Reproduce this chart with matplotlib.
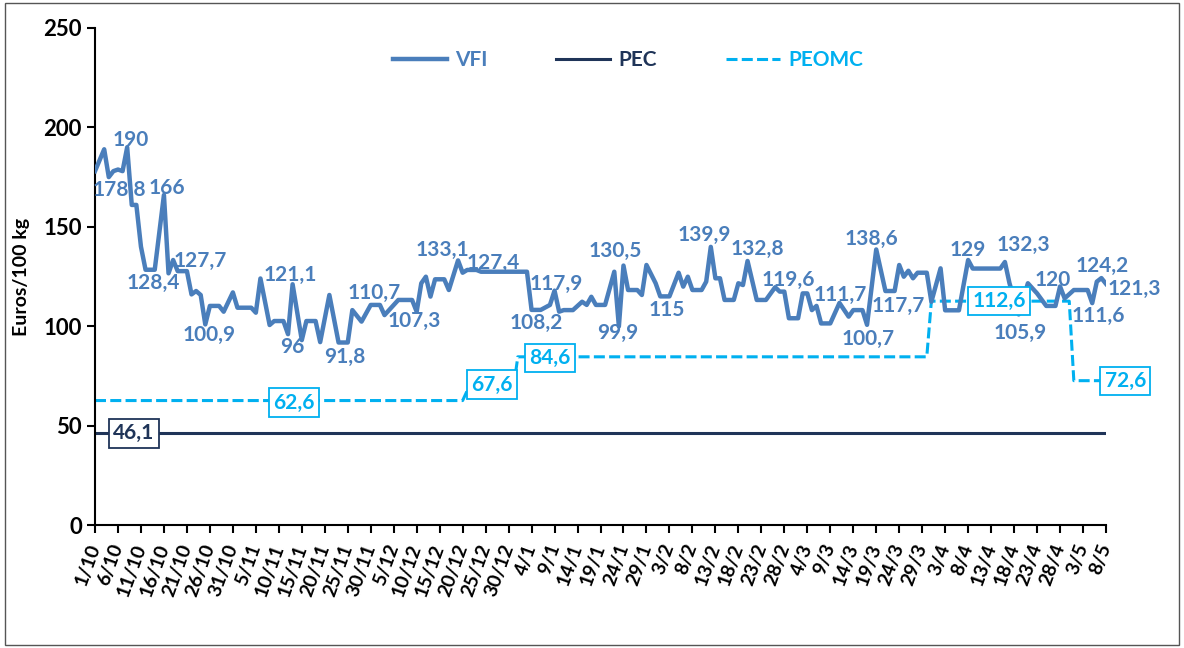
import matplotlib
matplotlib.use("Agg")
import matplotlib.pyplot as plt
import pandas as pd
from matplotlib.patches import Rectangle

# days counted from 1/10 (leap season, 221 days to 8/5)
START = "2023-10-01"
END = "2024-05-08"

VFI_DAYS = [0, 2, 3, 4, 5, 6, 7, 8, 9, 10, 11, 13, 15, 16, 17, 18, 20, 21, 22, 23,
            24, 25, 27, 28, 30, 31, 34, 35, 36, 38, 39, 41, 42, 43, 45, 46, 48, 49, 51, 53,
            55, 56, 58, 60, 62, 63, 66, 69, 70, 71, 72, 73, 74, 76, 77, 79, 80, 81, 83, 84,
            94, 95, 97, 99, 100, 101, 102, 104, 106, 107, 108, 109, 111, 113, 114, 115, 116, 118, 119, 120,
            122, 123, 125, 127, 128, 129, 130, 132, 133, 134, 135, 136, 137, 139, 140, 141, 142, 144, 146, 148,
            149, 150, 151, 153, 154, 155, 156, 157, 158, 160, 162, 164, 165, 167, 168, 170, 172, 174, 175, 176,
            177, 178, 179, 181, 182, 184, 185, 188, 190, 191, 197, 198, 199, 201, 203, 205, 207, 209, 210, 211,
            213, 216, 217, 218, 219, 220]
VFI_VALUES = [178.0, 189.0, 175.0, 178.0, 178.8, 178.0, 190.0, 161.0, 161.0, 140.0, 128.4, 128.4, 166.0, 126.6, 133.3, 127.7, 127.7, 116.0, 117.7, 115.7,
              100.9, 110.2, 110.2, 107.3, 117.0, 109.3, 109.3, 106.8, 124.0, 100.6, 102.6, 102.6, 96.0, 121.1, 93.0, 102.6, 102.6, 92.0, 115.7, 91.8,
              91.8, 108.1, 102.3, 110.7, 110.7, 105.6, 113.2, 113.2, 107.3, 121.6, 124.9, 114.9, 123.6, 123.6, 118.2, 133.1, 126.9, 128.3, 128.3, 127.4,
              127.4, 108.2, 108.2, 110.7, 117.9, 107.3, 108.1, 108.1, 112.3, 110.7, 114.8, 110.7, 110.7, 127.4, 99.9, 130.5, 118.2, 118.2, 115.7, 130.8,
              121.6, 115.0, 115.0, 126.9, 119.9, 124.9, 118.2, 118.2, 122.4, 139.9, 124.1, 124.1, 113.2, 113.2, 121.6, 120.7, 132.8, 113.2, 113.2, 119.6,
              117.4, 117.4, 104.0, 104.0, 116.5, 116.5, 108.1, 110.2, 101.4, 101.4, 111.7, 104.8, 108.1, 108.1, 100.7, 138.6, 117.7, 117.7, 130.8, 124.9,
              127.9, 124.1, 126.9, 126.9, 112.3, 129.1, 108.0, 108.0, 133.3, 129.0, 129.0, 132.3, 121.6, 105.9, 121.6, 116.5, 110.2, 110.2, 120.0, 114.0,
              118.2, 118.2, 111.6, 122.4, 124.2, 121.3]

PEC_DAYS = [0, 220]
PEC_VALUES = [46.1, 46.1]

PEOMC_DAYS = [0, 80, 81, 91, 92, 181, 182, 212, 213, 220]
PEOMC_VALUES = [62.6, 62.6, 67.6, 67.6, 84.6, 84.6, 112.6, 112.6, 72.6, 72.6]

# labelled VFI points: (day, dx px, dy px)
VFI_LABELS = [(5, 1, -20), (7, 4, 7), (13, -1, -13), (15, 3, 7), (20, 13, 10), (24, 4, -11),
              (42, 4, -13), (43, -2, 9), (55, -3, -14), (60, 3, 12), (70, -2, -9), (79, -16, 10),
              (84, 12, 9), (97, -4, -13), (100, 2, 7), (114, -1, -7), (115, -8, 15), (125, -3, -14),
              (134, -6, 12), (142, 10, 12), (148, 13, 7), (162, 1, 8), (168, 1, -14), (170, -5, 10),
              (172, 13, -15), (191, -5, 19), (198, 18, 17), (201, 2, -18), (210, -7, 6), (217, 6, -13),
              (219, 1, 12), (220, 28, -5)]
# boxed labels: (day of box centre, dy px)
PEC_LABELS = [(8.5, 0)]
PEOMC_LABELS = [(43.3, -2), (86.4, 6), (99, -1), (196.7, 0), (224.2, 0)]

VFI_COLOR = "#4a7ebb"
PEC_COLOR = "#1f3458"
PEOMC_COLOR = "#00b0f0"


def fmt(v):
    s = ("%.1f" % v).rstrip("0").rstrip(".")
    return s.replace(".", ",")


def value_at(days, values, d):
    # step series: value of the flat segment containing d
    for i in range(len(days) - 1):
        if days[i] <= d <= days[i + 1] and values[i] == values[i + 1]:
            return values[i]
    return values[-1]


plt.rcParams["font.family"] = ["Lato", "DejaVu Sans"]
plt.rcParams["font.weight"] = "bold"

fig = plt.figure(figsize=(11.84, 6.48), dpi=100)
ax = fig.add_axes([95 / 1184, 1 - 525 / 648, 1011 / 1184, 497 / 648])

ax.plot(VFI_DAYS, VFI_VALUES, color=VFI_COLOR, lw=3.2, label="VFI", zorder=3)
ax.plot(PEC_DAYS, PEC_VALUES, color=PEC_COLOR, lw=2.2, label="PEC", zorder=2)
ax.plot(PEOMC_DAYS, PEOMC_VALUES, color=PEOMC_COLOR, lw=2.2, ls=(0, (3.6, 1.4)),
        label="PEOMC", zorder=2)

for d, dx, dy in VFI_LABELS:
    v = VFI_VALUES[VFI_DAYS.index(d)]
    ax.annotate(fmt(v), (d, v), xytext=(dx, dy), textcoords="offset pixels",
                ha="center", va="center", color=VFI_COLOR, fontsize=15,
                fontweight="bold", zorder=5, annotation_clip=False)

box = dict(boxstyle="square,pad=0.2", fc="white", lw=1.3)
for d, dy in PEC_LABELS:
    v = value_at(PEC_DAYS, PEC_VALUES, d)
    ax.annotate(fmt(v), (d, v), xytext=(0, dy), textcoords="offset pixels",
                ha="center", va="center", color=PEC_COLOR, fontsize=15,
                fontweight="bold", zorder=6, annotation_clip=False,
                bbox=dict(box, ec=PEC_COLOR))
for d, dy in PEOMC_LABELS:
    v = value_at(PEOMC_DAYS, PEOMC_VALUES, d)
    ax.annotate(fmt(v), (d, v), xytext=(0, dy), textcoords="offset pixels",
                ha="center", va="center", color=PEOMC_COLOR, fontsize=15,
                fontweight="bold", zorder=6, annotation_clip=False,
                bbox=dict(box, ec=PEOMC_COLOR))

dates = pd.date_range(START, END, freq="5D")
tick_labels = ["%d/%d" % (t.day, t.month) for t in dates]
ax.set_xlim(0, 220)
ax.set_ylim(0, 250)
ax.set_xticks(range(0, 221, 5))
ax.set_xticklabels(tick_labels, rotation=70, ha="right", va="center",
                   rotation_mode="anchor", fontsize=14, fontweight="bold")
ax.set_yticks(range(0, 251, 50))
ax.tick_params(axis="y", labelsize=16, length=6, width=1.5, direction="out")
ax.tick_params(axis="x", length=6, width=1.5, direction="out", pad=8)
for s in ["top", "right"]:
    ax.spines[s].set_visible(False)
for s in ["left", "bottom"]:
    ax.spines[s].set_linewidth(1.5)

ax.set_ylabel("Euros/100 kg", fontsize=14, fontweight="bold")
ax.yaxis.set_label_coords(-0.064, 0.5)

leg = ax.legend(loc="center", bbox_to_anchor=(628 / 1184, 1 - 60 / 648),
                bbox_transform=fig.transFigure, ncol=3, frameon=False,
                fontsize=15, handlelength=2.6, columnspacing=3.3,
                handletextpad=0.4)
for txt, ln in zip(leg.get_texts(), leg.get_lines()):
    txt.set_color(ln.get_color())

fig.patches.append(Rectangle((0.004, 0.004), 0.992, 0.992, transform=fig.transFigure,
                             fill=False, ec="#555555", lw=1))

fig.savefig("out.png", dpi=100)
